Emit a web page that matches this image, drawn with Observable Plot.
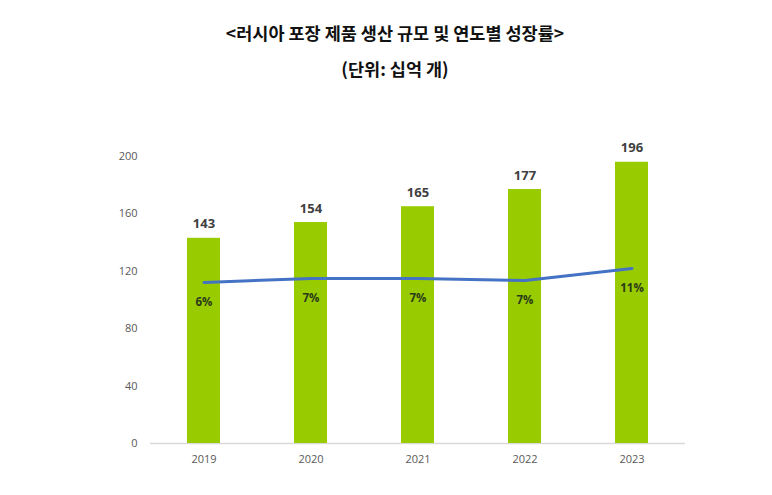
<!DOCTYPE html>
<html>
<head>
<meta charset="utf-8">
<script src="https://cdn.jsdelivr.net/npm/d3@7"></script>
<script src="https://cdn.jsdelivr.net/npm/@observablehq/plot@0.6"></script>
<style>
  html, body { margin: 0; padding: 0; background: #fff; }
  #wrap { width: 772px; }
  .t1, .t2 { font-family: "Noto Sans CJK KR", sans-serif; font-weight: bold; color: #111; text-align: center; font-size: 17.5px; width: 772px; padding-left: 18px; box-sizing: border-box; }
  .t1 { height: 24px; line-height: 24px; margin-top: 21px; }
  .t2 { height: 24px; line-height: 24px; margin-top: 12px; }
  #chart { margin-top: 14px; }
  svg { display: block; }
</style>
</head>
<body>
<div id="wrap">
  <div class="t1">&lt;러시아 포장 제품 생산 규모 및 연도별 성장률&gt;</div>
  <div class="t2">(단위: 십억 개)</div>
  <div id="chart"></div>
</div>
<script>
const years = ["2019", "2020", "2021", "2022", "2023"];
const production = [143, 154, 165, 177, 196];
const growthLabels = ["6%", "7%", "7%", "7%", "11%"];
// growth line as read on the left axis (secondary axis hidden in the original)
const growthLine = [112.2, 115, 115, 113.6, 122];
const yTicks = [0, 40, 80, 120, 160, 200];

const data = years.map((y, i) => ({year: y, value: production[i], g: growthLine[i], gl: growthLabels[i]}));

const chart = Plot.plot({
  width: 772,
  height: 400,
  marginTop: 61,
  marginBottom: 52,
  marginLeft: 150,
  marginRight: 87,
  style: {fontFamily: "'Open Sans', sans-serif", fontSize: "11px", color: "#595959"},
  x: {domain: years, paddingInner: 0.69, paddingOuter: 0.345, label: null, tickSize: 0, tickPadding: 12},
  y: {domain: [0, 200], ticks: yTicks, label: null, tickSize: 0, tickPadding: 13},
  marks: [
    Plot.ruleY([0], {stroke: "#d9d9d9", strokeWidth: 1.5}),
    Plot.barY(data, {x: "year", y: "value", fill: "#99cc00"}),
    Plot.text(data, {x: "year", y: "value", text: d => String(d.value), dy: -14, fontWeight: "bold", fontSize: 13, fill: "#404040"}),
    Plot.line(data, {x: "year", y: "g", stroke: "#4472c4", strokeWidth: 3}),
    Plot.text(data, {x: "year", y: "g", text: "gl", dy: 20, fontWeight: "bold", fontSize: 11.5, fill: "#2b3a1a"})
  ]
});
document.getElementById("chart").appendChild(chart);
</script>
</body>
</html>
